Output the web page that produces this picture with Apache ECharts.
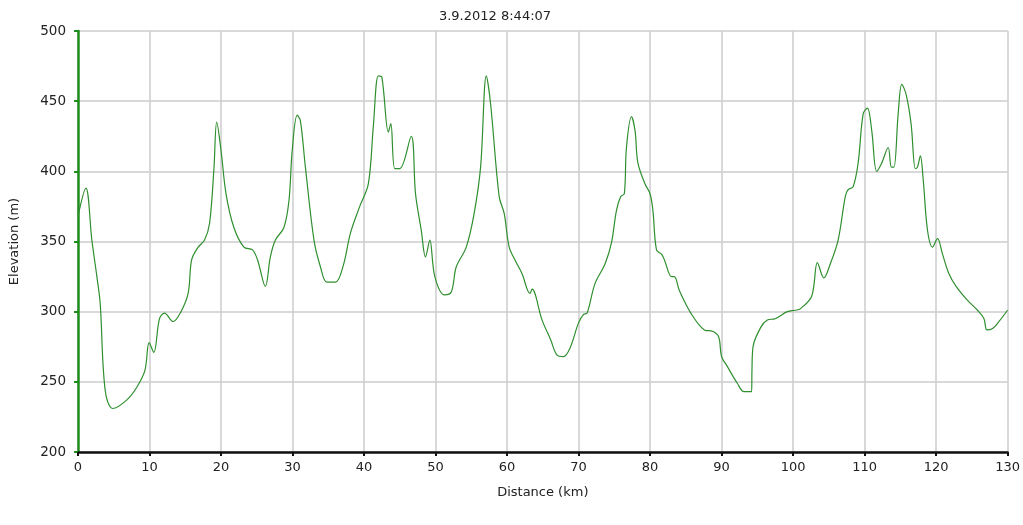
<!DOCTYPE html>
<html>
<head>
<meta charset="utf-8">
<script src="https://cdn.jsdelivr.net/npm/echarts@6/dist/echarts.min.js"></script>
<style>
html,body{margin:0;padding:0;background:#fff;}
#chart{width:1023px;height:525px;}
</style>
</head>
<body>
<div id="chart"></div>
<script>
var chartTitle = '3.9.2012 8:44:07';
var xAxisName = 'Distance (km)';
var yAxisName = 'Elevation (m)';
var distanceKm = [0,1.1,1.94,2.64,3.1,3.8,4.86,6.8,8.2,9.35,9.95,10.6,11.4,12.1,13.3,14.4,15.4,15.9,16.8,17.7,18.4,19.0,19.4,20.0,20.7,21.8,23.2,24.4,25.1,26.2,26.9,27.6,28.8,29.5,29.96,30.65,31.1,31.8,33.0,33.9,34.8,36.0,37.1,38.1,39.4,40.6,41.3,42.0,42.5,43.4,43.75,44.3,45.0,46.6,47.2,48.0,48.6,49.2,49.9,51.25,52.2,52.9,54.3,55.4,56.3,57.1,57.7,58.9,59.6,60.3,61.2,62.1,63.2,63.5,64.9,66.1,67.0,67.9,68.8,70.0,70.7,71.2,72.3,73.7,74.6,75.3,75.9,76.4,76.7,77.4,77.9,78.3,79.3,80.0,80.4,80.9,81.6,82.0,83.0,83.4,84.1,85.7,87.6,88.75,89.6,90.0,90.8,92.2,93.15,94.2,94.25,94.4,95.5,96.4,97.5,99.2,100.3,101.0,102.6,103.4,104.3,105.2,106.3,107.3,107.7,108.4,109.1,109.8,110.4,111.0,111.7,112.4,113.3,113.75,114.1,114.7,115.2,115.8,116.5,117.1,117.4,117.8,118.2,118.8,119.5,120.2,120.9,121.8,122.8,124.4,125.8,126.7,127.1,127.9,128.8,130.0];
var elevationM = [368,388,351,325,306,244,231,237,246,258,278,271,295,299,293,300,313,337,346,351,363,401,435,415,384,360,346,344,337,318,339,351,360,379,415,440,436,403,351,332,321,321,333,356,375,391,432,468,467,428,434,402,402,425,384,358,339,351,325,312,314,332,346,370,403,468,448,382,370,346,336,327,313,316,294,280,269,268,274,292,298,299,320,334,349,372,382,384,417,439,429,406,391,384,372,344,341,337,325,325,315,299,287,286,282,268,261,249,243,243,258,275,289,294,295,300,301,302,311,335,324,334,351,382,387,389,406,441,445,429,400,406,417,403,403,441,462,455,434,402,403,411,394,358,346,352,341,327,318,308,301,295,287,288,293,301];
var xTicks = [0,10,20,30,40,50,60,70,80,90,100,110,120,130];
var yTicks = [200,250,300,350,400,450,500];

var seriesData = distanceKm.map(function(d,i){return [d, elevationM[i]];});
var chart = echarts.init(document.getElementById('chart'), null, {renderer:'canvas'});
var font = 'Verdana, "DejaVu Sans", sans-serif';
chart.setOption({
  animation:false,
  backgroundColor:'#fff',
  title:{text:chartTitle,left:490,top:5,textAlign:'center',textStyle:{fontFamily:font,fontSize:13,fontWeight:'normal',color:'#222'}},
  grid:{left:76,right:11,top:31,bottom:73,containLabel:false},
  xAxis:{type:'value',min:xTicks[0],max:xTicks[xTicks.length-1],interval:10,
    name:xAxisName,nameLocation:'middle',nameGap:34,
    nameTextStyle:{fontFamily:font,fontSize:13,color:'#222'},
    axisLine:{show:true,onZero:false,lineStyle:{color:'#111',width:2.5}},
    axisTick:{show:true,length:4,lineStyle:{color:'#111',width:2}},
    axisLabel:{fontFamily:font,fontSize:13,color:'#222',margin:9},
    splitLine:{show:true,lineStyle:{color:'#cccccc',width:1.5}}},
  yAxis:{type:'value',min:yTicks[0],max:yTicks[yTicks.length-1],interval:50,
    name:yAxisName,nameLocation:'middle',nameGap:57,nameRotate:90,
    nameTextStyle:{fontFamily:font,fontSize:13,color:'#222'},
    axisLine:{show:true,lineStyle:{color:'#1e8c1e',width:2.5}},
    axisTick:{show:true,length:4,lineStyle:{color:'#1e8c1e',width:2}},
    axisLabel:{fontFamily:font,fontSize:13.5,color:'#222',margin:12},
    splitLine:{show:true,lineStyle:{color:'#cccccc',width:1.5}}},
  series:[{type:'line',data:seriesData,smooth:0.35,showSymbol:false,
    lineStyle:{color:'#2f8f2f',width:1.2},z:3}]
});
</script>
</body>
</html>
